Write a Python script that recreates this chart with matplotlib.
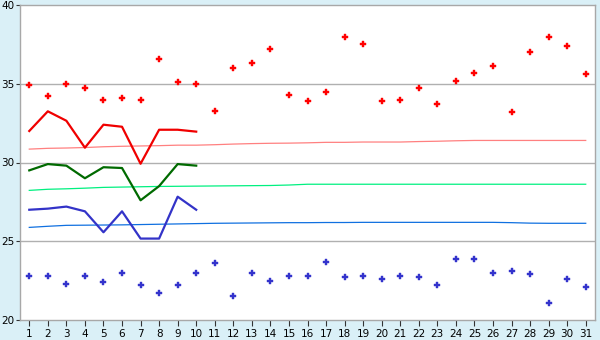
import matplotlib
matplotlib.use("Agg")
import matplotlib.pyplot as plt

days = list(range(1, 32))

max_obs = [34.9, 34.2, 35.0, 34.7, 34.0, 34.1, 34.0, 36.6, 35.1, 35.0,
           33.3, 36.0, 36.3, 37.2, 34.3, 33.9, 34.5, 38.0, 37.5, 33.9,
           34.0, 34.7, 33.7, 35.2, 35.7, 36.1, 33.2, 37.0, 38.0, 37.4, 35.6]
min_obs = [22.8, 22.8, 22.3, 22.8, 22.4, 23.0, 22.2, 21.7, 22.2, 23.0,
           23.6, 21.5, 23.0, 22.5, 22.8, 22.8, 23.7, 22.7, 22.8, 22.6,
           22.8, 22.7, 22.2, 23.9, 23.9, 23.0, 23.1, 22.9, 21.1, 22.6, 22.1]

line_days = list(range(1, 11))
max_line = [32.0, 33.25, 32.65, 30.94, 32.4, 32.27, 29.92, 32.08, 32.08, 31.96]
mean_line = [29.5, 29.9, 29.8, 29.0, 29.7, 29.65, 27.6, 28.5, 29.9, 29.8]
min_line = [27.0, 27.07, 27.2, 26.9, 25.57, 26.9, 25.17, 25.17, 27.83, 27.0]

max_norm = [30.85, 30.9, 30.92, 30.95, 31.0, 31.03, 31.05, 31.07, 31.1, 31.1,
            31.13, 31.17, 31.2, 31.22, 31.23, 31.25, 31.28, 31.28, 31.3, 31.3,
            31.3, 31.33, 31.35, 31.38, 31.4, 31.4, 31.4, 31.4, 31.4, 31.4, 31.4]
mean_norm = [28.23, 28.3, 28.33, 28.37, 28.42, 28.44, 28.46, 28.48, 28.49, 28.5,
             28.51, 28.52, 28.53, 28.54, 28.57, 28.62, 28.62, 28.62, 28.62, 28.62,
             28.62, 28.62, 28.62, 28.62, 28.62, 28.62, 28.62, 28.62, 28.62, 28.62, 28.62]
min_norm = [25.88, 25.95, 26.01, 26.02, 26.03, 26.04, 26.06, 26.08, 26.1, 26.12,
            26.14, 26.15, 26.16, 26.17, 26.18, 26.18, 26.19, 26.19, 26.2, 26.2,
            26.2, 26.2, 26.2, 26.2, 26.2, 26.2, 26.18, 26.15, 26.14, 26.14, 26.14]

yticks = [20, 25, 30, 35, 40]

bg = "#daf0f7"
fig = plt.figure(figsize=(6, 3.4), dpi=100, facecolor=bg)
ax = fig.add_axes([20/600, 20/340, 575/600, 315/340])
ax.set_facecolor("white")

for g in [25, 30, 35]:
    ax.axhline(g, color="#b0b0b0", lw=1.0, zorder=1)

ax.plot(days, max_norm, color="#ff8080", lw=0.9, zorder=2)
ax.plot(days, mean_norm, color="#00f080", lw=0.9, zorder=2)
ax.plot(days, min_norm, color="#1070e0", lw=0.9, zorder=2)

ax.plot(line_days, max_line, color="#f00000", lw=1.6, zorder=3)
ax.plot(line_days, mean_line, color="#006a00", lw=1.6, zorder=3)
ax.plot(line_days, min_line, color="#3333c8", lw=1.6, zorder=3)

ax.plot(days, max_obs, ls="none", marker="P", ms=3.7, color="#ff0000",
        mec="#ff0000", mew=0.3, zorder=4)
ax.plot(days, min_obs, ls="none", marker="P", ms=3.7, color="#3333cc",
        mec="#3333cc", mew=0.3, zorder=4)

ax.set_xlim(0.5, 31.5)
ax.set_ylim(20, 40)
ax.set_xticks(days)
ax.set_xticklabels([str(d) for d in days])
ax.set_yticks(yticks)
ax.set_yticklabels([str(t) for t in yticks])

for s in ax.spines.values():
    s.set_color("#a8a8a8")
    s.set_linewidth(1.0)

ax.tick_params(axis="x", length=4, width=0.8, color="#333333", pad=2.5,
               labelsize=7.5, labelcolor="black")
ax.tick_params(axis="y", length=3, width=0.8, color="#333333", pad=1,
               labelsize=7.5, labelcolor="black")

fig.savefig("out.png", dpi=100, facecolor=bg)
